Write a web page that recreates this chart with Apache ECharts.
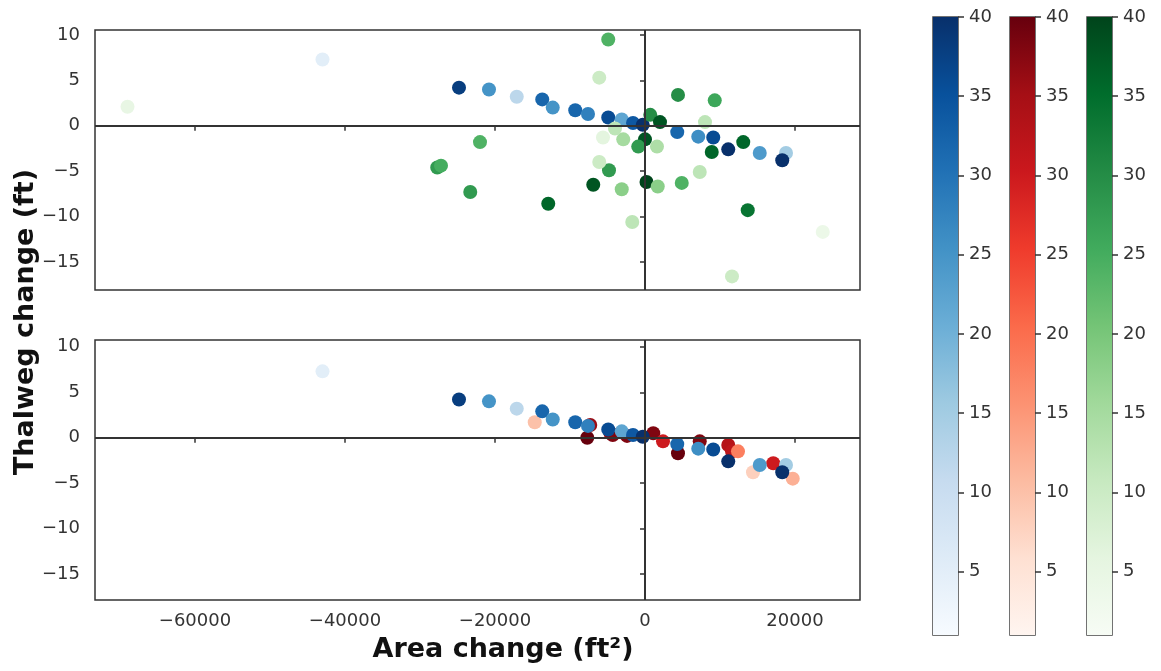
<!DOCTYPE html>
<html>
<head>
<meta charset="utf-8">
<script src="https://cdn.jsdelivr.net/npm/echarts@6/dist/echarts.min.js"></script>
<style>
  html, body { margin: 0; padding: 0; background: #fff; }
  #chart { width: 1161px; height: 671px; }
</style>
</head>
<body>
<div id="chart"></div>
<script>
// [area change (ft2), thalweg change (ft), colour value]
const bluePoints = [
  [-43000, 7.3, 5], [-24800, 4.2, 38], [-20800, 4.0, 25], [-17100, 3.2, 12],
  [-13700, 2.9, 32], [-12300, 2.0, 25], [-9300, 1.7, 32], [-7600, 1.3, 28],
  [-4900, 0.9, 36], [-3100, 0.7, 22], [-1600, 0.3, 34], [-300, 0.1, 40],
  [4300, -0.7, 32], [7100, -1.2, 26], [9100, -1.3, 36], [11100, -2.6, 40],
  [15300, -3.0, 24], [18800, -3.0, 15], [18300, -3.8, 40]
];
const greenPoints = [
  [-69000, 2.1, 5], [-27700, -4.6, 28], [-27200, -4.4, 25], [-23300, -7.3, 28],
  [-22000, -1.8, 24], [-12900, -8.6, 36], [-4900, 9.5, 24], [-6100, 5.3, 10],
  [-6900, -6.5, 38], [-4800, -4.9, 28], [-6100, -4.0, 10], [-3100, -7.0, 18],
  [-1700, -10.6, 12], [-2900, -1.5, 15], [-5600, -1.3, 6], [-4000, -0.3, 12],
  [700, 1.2, 30], [2000, 0.4, 38], [0, -1.5, 38], [-900, -2.3, 28],
  [1600, -2.3, 14], [200, -6.2, 40], [1700, -6.7, 18], [4900, -6.3, 24],
  [4400, 3.4, 30], [9300, 2.8, 26], [8000, 0.4, 12], [7300, -5.1, 12],
  [8900, -2.9, 36], [13100, -1.8, 36], [13700, -9.3, 34], [11600, -16.6, 10],
  [23700, -11.7, 4]
];
const redPoints = [
  [-14700, 1.7, 10], [-7700, 0.0, 40], [-7300, 1.4, 36], [-4600, 0.5, 36],
  [-4300, 0.3, 38], [-2400, 0.2, 38], [1100, 0.5, 38], [2400, -0.4, 30],
  [4400, -1.7, 40], [7300, -0.4, 38], [11100, -0.8, 33], [11600, -1.5, 32],
  [12400, -1.5, 18], [17100, -2.8, 30], [14400, -3.8, 8], [19700, -4.5, 12]
];
const xTicks = [-60000, -40000, -20000, 0, 20000];
const yTicks = [-15, -10, -5, 0, 5, 10];
const cbarTicks = [5, 10, 15, 20, 25, 30, 35, 40];
const cbarMin = 1;
const cbarMax = 40;

const blues = ['#f7fbff', '#deebf7', '#c6dbef', '#9ecae1', '#6baed6', '#4292c6', '#2171b5', '#08519c', '#08306b'];
const reds = ['#fff5f0', '#fee0d2', '#fcbba1', '#fc9272', '#fb6a4a', '#ef3b2c', '#cb181d', '#a50f15', '#67000d'];
const greens = ['#f7fcf5', '#e5f5e0', '#c7e9c0', '#a1d99b', '#74c476', '#41ab5d', '#238b45', '#006d2c', '#00441b'];

const font = 'DejaVu Sans';
const minus = (v) => String(v).replace('-', '\u2212');

const cbarLefts = [933, 1010, 1087];
const cbarTop = 17;
const cbarHeight = 618;

const gradient = (cmap) => {
  // top of bar = max value
  const stops = cmap.map((c, i) => ({ offset: 1 - i / (cmap.length - 1), color: c }));
  return new echarts.graphic.LinearGradient(0, cbarTop, 0, cbarTop + cbarHeight, stops, true);
};

const plotX = (idx, showLabel) => ({
  type: 'value',
  gridIndex: idx,
  min: -73333,
  max: 28667,
  axisLine: { show: false },
  splitLine: { show: false },
  axisTick: { show: true, customValues: xTicks, length: 5, lineStyle: { color: '#333', width: 1.5 } },
  axisLabel: {
    show: showLabel, customValues: xTicks, formatter: minus,
    fontFamily: font, fontSize: 18, color: '#333', margin: 12
  }
});
const plotY = (idx, min, max) => ({
  type: 'value',
  gridIndex: idx,
  min: min,
  max: max,
  axisLine: { show: false },
  splitLine: { show: false },
  axisTick: { show: true, customValues: yTicks, length: 5, lineStyle: { color: '#333', width: 1.5 } },
  axisLabel: { customValues: yTicks, formatter: minus, fontFamily: font, fontSize: 18, color: '#333', margin: 15 }
});

const zeroLines = (idx) => ({
  type: 'scatter',
  xAxisIndex: idx,
  yAxisIndex: idx,
  data: [],
  z: 1,
  silent: true,
  markLine: {
    silent: true,
    symbol: 'none',
    animation: false,
    label: { show: false },
    lineStyle: { color: '#333', width: 2, type: 'solid' },
    data: [{ xAxis: 0 }, { yAxis: 0 }]
  }
});

const dots = (idx, data) => ({
  type: 'scatter',
  xAxisIndex: idx,
  yAxisIndex: idx,
  data: data,
  symbolSize: 14,
  z: 3,
  itemStyle: { opacity: 1 }
});

const cbarBar = (i, cmap) => ({
  type: 'bar',
  xAxisIndex: 2 + i,
  yAxisIndex: 2 + i,
  data: [cbarMax],
  barWidth: '100%',
  clip: true,
  silent: true,
  itemStyle: { color: gradient(cmap) }
});

const grids = [
  { left: 95, top: 30, width: 765, height: 260, show: true, borderColor: '#333', borderWidth: 1.5 },
  { left: 95, top: 340, width: 765, height: 260, show: true, borderColor: '#333', borderWidth: 1.5 }
];
cbarLefts.forEach((l) => grids.push({
  left: l, top: cbarTop, width: 25, height: cbarHeight, show: true, borderColor: '#444', borderWidth: 1.5
}));

const xAxes = [plotX(0, false), plotX(1, true)];
const yAxes = [plotY(0, -18.1, 10.55), plotY(1, -17.85, 10.75)];
cbarLefts.forEach((l, i) => {
  xAxes.push({ type: 'category', gridIndex: 2 + i, data: ['c'], show: false });
  yAxes.push({
    type: 'value',
    gridIndex: 2 + i,
    position: 'right',
    min: cbarMin,
    max: cbarMax,
    axisLine: { show: false },
    splitLine: { show: false },
    axisTick: { show: true, customValues: cbarTicks, length: 6, lineStyle: { color: '#333', width: 1.5 } },
    axisLabel: { customValues: cbarTicks, fontFamily: font, fontSize: 18, color: '#333', margin: 11 }
  });
});

const chart = echarts.init(document.getElementById('chart'));
chart.setOption({
  animation: false,
  backgroundColor: '#fff',
  grid: grids,
  xAxis: xAxes,
  yAxis: yAxes,
  visualMap: [
    { type: 'continuous', show: false, seriesIndex: [2, 6], dimension: 2, min: cbarMin, max: cbarMax, inRange: { color: blues } },
    { type: 'continuous', show: false, seriesIndex: [3], dimension: 2, min: cbarMin, max: cbarMax, inRange: { color: greens } },
    { type: 'continuous', show: false, seriesIndex: [5], dimension: 2, min: cbarMin, max: cbarMax, inRange: { color: reds } }
  ],
  series: [
    zeroLines(0),
    zeroLines(1),
    dots(0, bluePoints),
    dots(0, greenPoints),
    cbarBar(0, blues),
    dots(1, redPoints),
    dots(1, bluePoints),
    cbarBar(1, reds),
    cbarBar(2, greens)
  ],
  graphic: [
    {
      type: 'text',
      x: 26, y: 322,
      rotation: Math.PI / 2,
      style: {
        text: 'Thalweg change (ft)', font: 'bold 27px "DejaVu Sans"', fill: '#111',
        align: 'center', verticalAlign: 'middle'
      }
    },
    {
      type: 'text',
      x: 503, y: 650,
      style: {
        text: 'Area change (ft\u00b2)', font: 'bold 27px "DejaVu Sans"', fill: '#111',
        align: 'center', verticalAlign: 'middle'
      }
    }
  ]
});
</script>
</body>
</html>
